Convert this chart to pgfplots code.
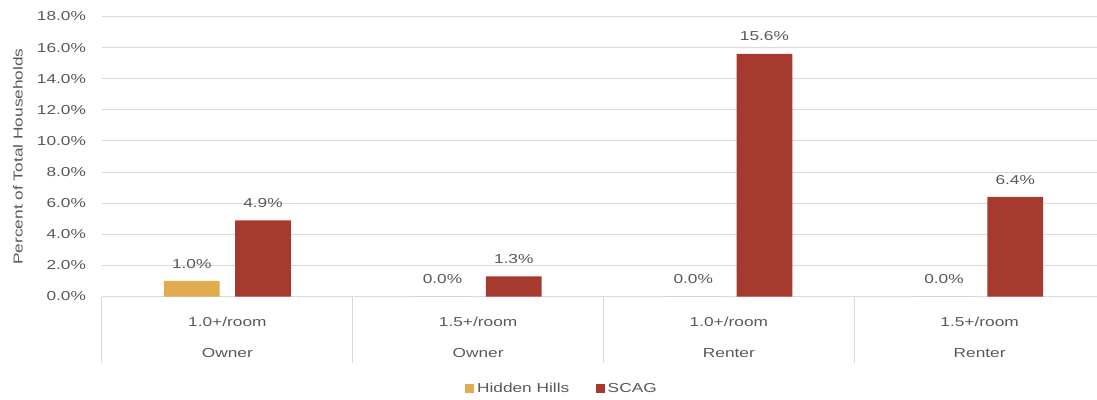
\documentclass[border=0pt]{standalone}
\usepackage{fontspec}
\setmainfont{Liberation Sans}[FakeStretch=1.33]
\usepackage{pgfplots}
\pgfplotsset{compat=1.18}
\definecolor{hh}{RGB}{224,172,78}
\definecolor{scag}{RGB}{166,58,46}
\definecolor{gridc}{RGB}{217,217,217}
\definecolor{txt}{RGB}{89,89,89}
\begin{document}
\begin{tikzpicture}[font=\fontsize{9.75pt}{11.7pt}\selectfont]
\begin{axis}[
  at={(0,0)}, anchor=south west,
  scale only axis,
  width=752.25pt, height=210pt,
  xmin=-0.5, xmax=3.5,
  ymin=0, ymax=18,
  ytick={0,2,...,18},
  xtick={0,1,2,3},
  xticklabels={{1.0+/room\\Owner},{1.5+/room\\Owner},{1.0+/room\\Renter},{1.5+/room\\Renter}},
  xticklabel style={align=center, text=txt, yshift=-12pt, execute at begin node={\setlength{\baselineskip}{23.5pt}}},
  yticklabel={\pgfmathprintnumber[fixed,fixed zerofill,precision=1]{\tick}\%},
  yticklabel style={text=txt, xshift=-8.5pt},
  /pgf/number format/assume math mode=true,
  major tick length=0pt,
  axis line style={draw=none},
  ymajorgrids, grid style={gridc, line width=0.75pt},
  ylabel={Percent of Total Households},
  ylabel style={text=txt, at={(axis description cs:0,0.5)}, anchor=center, rotate=0, yshift=63pt},
  clip=false,
  legend style={at={(axis description cs:0.459,-0.33)}, anchor=center, draw=none, text=txt, legend columns=2,
    /tikz/every even column/.append style={column sep=18pt}, inner sep=0pt},
  legend image code/.code={\fill[#1, draw=none] (0pt,-3.4pt) rectangle (6.8pt,3.4pt);},
  nodes near coords={\pgfmathprintnumber[fixed,fixed zerofill,precision=1]{\pgfplotspointmeta}\%},
  every node near coord/.append style={text=txt, yshift=6pt},
]
\addplot[ybar, bar width=0.222, bar shift=-0.142, fill=hh, draw=none,
  every node near coord/.append style={xshift=-26.7pt}] coordinates {(0,1.0) (1,0.0) (2,0.0) (3,0.0)};
\addplot[ybar, bar width=0.222, bar shift=0.142, fill=scag, draw=none,
  every node near coord/.append style={xshift=26.7pt}] coordinates {(0,4.9) (1,1.3) (2,15.6) (3,6.4)};
\legend{Hidden Hills, SCAG}
\draw[gridc, line width=0.75pt] (axis cs:-0.5,0) -- ([yshift=-50pt]axis cs:-0.5,0);
\draw[gridc, line width=0.75pt] (axis cs:0.5,0) -- ([yshift=-50pt]axis cs:0.5,0);
\draw[gridc, line width=0.75pt] (axis cs:1.5,0) -- ([yshift=-50pt]axis cs:1.5,0);
\draw[gridc, line width=0.75pt] (axis cs:2.5,0) -- ([yshift=-50pt]axis cs:2.5,0);
\draw[gridc, line width=0.75pt] (axis cs:3.5,0) -- ([yshift=-50pt]axis cs:3.5,0);
\end{axis}
\pgfresetboundingbox
\useasboundingbox (-76.5pt,-77.625pt) rectangle (746.25pt,222.375pt);
\end{tikzpicture}
\end{document}
